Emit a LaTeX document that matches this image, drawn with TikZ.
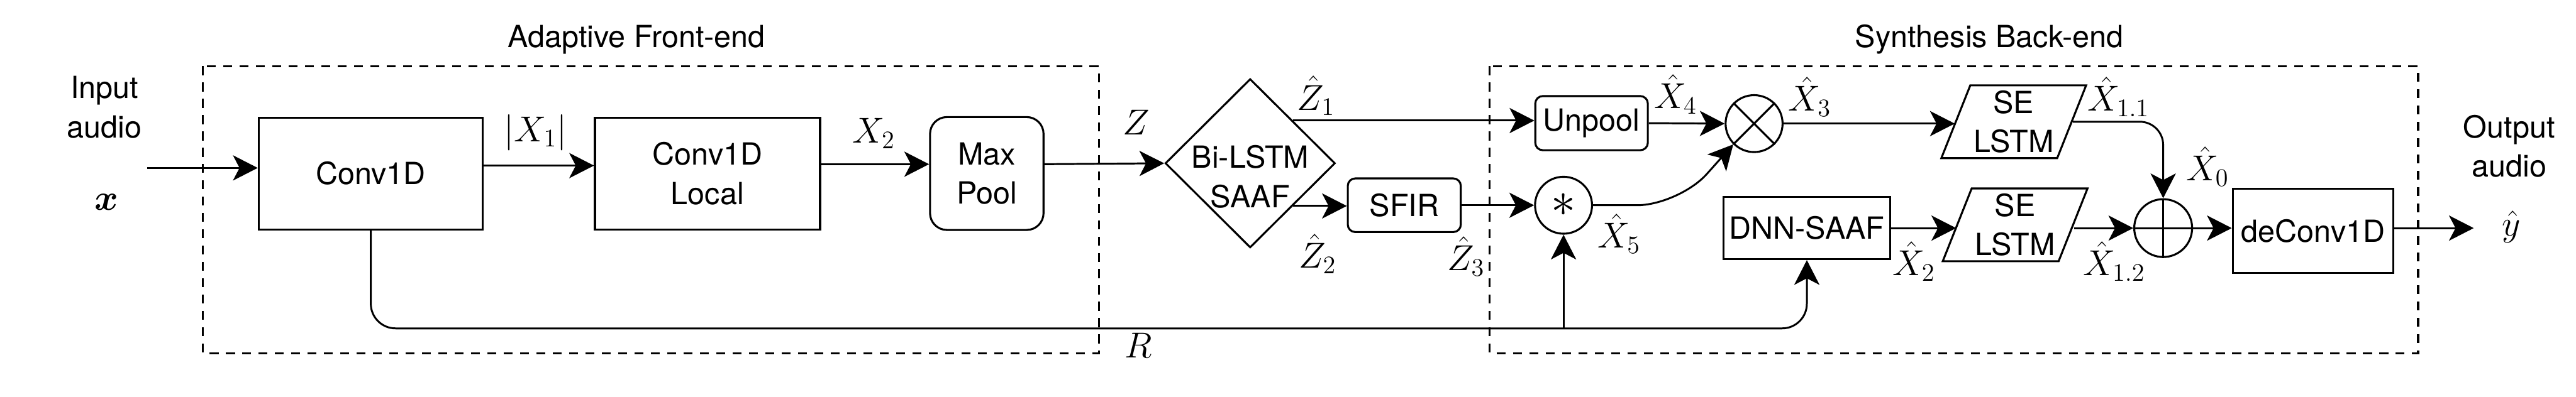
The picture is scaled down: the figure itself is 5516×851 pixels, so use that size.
\RequirePackage{fix-cm}
\documentclass[tikz,border=0pt]{standalone}
\usepackage{amsmath}
\usepackage{bm}
\usepackage[no-math]{fontspec}
\setmainfont{TeX Gyre Heros}
\usetikzlibrary{arrows.meta,shapes.geometric,calc}

\newcommand{\boxfont}{\fontsize{18.6}{23.9}\selectfont}
\newcommand{\lblfont}{\fontsize{22}{26}\selectfont}

\begin{document}
\begin{tikzpicture}[x=0.1mm, y=-0.1mm,
    blk/.style={draw, line width=0.42mm, align=center, inner sep=0pt,
                font=\boxfont},
    rblk/.style={blk, rounded corners=1.6mm},
    opn/.style={draw, circle, line width=0.42mm, minimum size=12.2mm,
                inner sep=0pt},
    para/.style={blk, trapezium, trapezium left angle=67,
                 trapezium right angle=113, trapezium stretches=true,
                 minimum width=31.1mm, minimum height=15.6mm},
    arr/.style={-{Stealth[length=5.3mm, width=5.4mm, inset=1.4mm]},
                line width=0.4mm},
    grp/.style={dash pattern=on 1.9mm off 1.6mm, line width=0.42mm},
    lbl/.style={font=\lblfont, inner sep=0pt},
    ttl/.style={font=\boxfont, inner sep=0pt, align=center}
  ]
    \useasboundingbox (0,0) rectangle (5516,851);

    % group frames
    \draw[grp] (434,142) rectangle (2353,757);
    \draw[grp] (3190,142) rectangle (5178,757);
    \node[ttl] (fetitle) at (1363,85) {Adaptive Front-end};
    \node[ttl] (betitle) at (4260,85) {Synthesis Back-end};

    % front-end blocks
    \node[blk, minimum width=48mm, minimum height=24mm] (conv) at (794,372) {Conv1D};
    \node[blk, minimum width=48.2mm, minimum height=24mm] (loc) at (1515,372) {Conv1D\\Local};
    \node[rblk, rounded corners=3.6mm, minimum width=24.3mm, minimum height=24.2mm]
      (pool) at (2113,372) {Max\\Pool};
    \node[draw, diamond, line width=0.42mm, minimum width=36.4mm, minimum height=36.2mm,
          inner sep=0pt] (lstm) at (2677,350) {};
    \node[ttl] (lstmtxt) at (2677,379) {Bi-LSTM\\SAAF};
    \node[rblk, minimum width=24.2mm, minimum height=11.5mm] (sfir) at (3007,440) {SFIR};

    % back-end blocks
    \node[rblk, minimum width=24.1mm, minimum height=11.6mm] (unpool) at (3408,264) {Unpool};
    \node[opn] (cnv) at (3348,440) {\fontsize{30}{30}\selectfont$\ast$};
    \node[opn] (mul) at (3756,265) {};
    \draw[line width=0.42mm] (mul.45) -- (mul.225) (mul.135) -- (mul.-45);
    \node[blk, minimum width=35.7mm, minimum height=13.3mm] (dnn) at (3869,489) {DNN-SAAF};
    \node[para] (se1) at (4312,261) {SE\\LSTM};
    \node[para] (se2) at (4315,482) {SE\\LSTM};
    \node[opn, minimum size=12.4mm] (add) at (4632,489) {};
    \draw[line width=0.42mm] (add.north) -- (add.south) (add.west) -- (add.east);
    \node[blk, minimum width=34.4mm, minimum height=18.1mm] (dec) at (4953,495) {deConv1D};

    % input / output
    \node[ttl] (intxt) at (224,230) {Input\\audio};
    \node[lbl] (inx) at (228,433) {$\bm{x}$};
    \node[ttl] (outtxt) at (5373,313) {Output\\audio};
    \node[lbl] (outy) at (5377,487) {$\hat{y}$};
    \coordinate (in) at (315,360);
    \coordinate (out) at (5297,489);
    \coordinate (rj) at (3348,704);

    % connectors
    \draw[arr] (in) -- (in -| conv.west);
    \draw[arr] ([yshift=1.7mm]conv.east) -- ([yshift=1.7mm]loc.west);
    \draw[arr] ([yshift=2mm]loc.east) -- ([yshift=2mm]pool.west);
    \draw[arr] ([yshift=2mm]pool.east) -- (lstm.west);
    \draw[arr] (lstm.north east) -- (lstm.north east -| unpool.west);
    \draw[arr] (lstm.south east) -- (lstm.south east -| sfir.west);
    \draw[arr] (sfir.east) -- (cnv.west);
    \draw[arr] (unpool.east) -- (mul.west);
    \draw[arr, rounded corners=9mm] (cnv.east) -- (3595,440) -- (mul.225);
    \draw[arr] (mul.east) -- (mul.east -| se1.west);
    \draw[arr, rounded corners=5mm] (se1.east) -| (add.north);
    \draw[arr] (dnn.east) -- (dnn.east -| se2.west);
    \draw[arr] (se2.east |- add.west) -- (add.west);
    \draw[arr] (add.east) -- (add.east -| dec.west);
    \draw[arr] (dec.east |- add.east) -- (out);
    \draw[arr, rounded corners=5.3mm] (conv.south) |- (rj -| dnn.south) -- (dnn.south);
    \draw[arr] (rj) -- (cnv.south);

    % signal labels
    \node[lbl] at (1147,284) {$|X_1|$};
    \node[lbl] at (1871,286) {$X_2$};
    \node[lbl] at (2433,262) {$Z$};
    \node[lbl] at (2438,740) {$R$};
    \node[lbl] at (2818,205) {$\hat{Z}_1$};
    \node[lbl] at (2821,544) {$\hat{Z}_2$};
    \node[lbl] at (3139,549) {$\hat{Z}_3$};
    \node[lbl] at (3588,202) {$\hat{X}_4$};
    \node[lbl] at (3875,207) {$\hat{X}_3$};
    \node[lbl] at (3467,501) {$\hat{X}_5$};
    \node[lbl] at (4536,207) {$\hat{X}_{1.1}$};
    \node[lbl] at (4727,357) {$\hat{X}_0$};
    \node[lbl] at (4098,560) {$\hat{X}_2$};
    \node[lbl] at (4527,560) {$\hat{X}_{1.2}$};
\end{tikzpicture}
\end{document}
